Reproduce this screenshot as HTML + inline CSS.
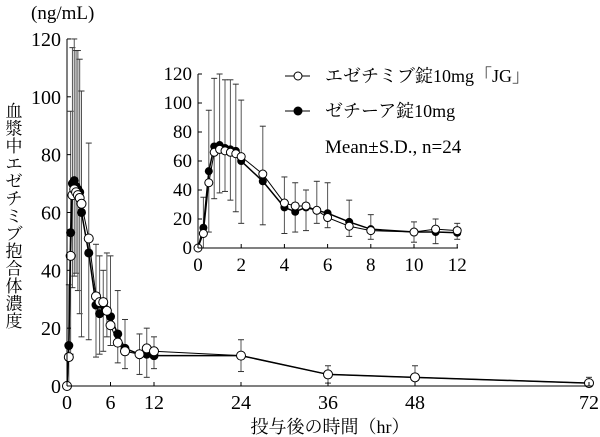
<!DOCTYPE html>
<html><head><meta charset="utf-8"><style>
html,body{margin:0;padding:0;background:#fff;}
svg{display:block;font-family:"Liberation Serif","Noto Serif CJK JP",serif;}
</style></head><body>
<svg id="s" width="600" height="437" viewBox="0 0 600 437"></svg>
<script>
const s=document.getElementById('s');let h='';
const t=[0,0.25,0.5,0.75,1,1.25,1.5,1.75,2,3,4,4.5,5,5.5,6,7,8,10,11,12,24,36,48,72];
const o=[0,10,45,66,68,67,66,65,63,51,31,29,29,26,21,15,12,11,13,12,10.5,4,3,1];
const f=[0,14,53,70,71,69,68,67,60,46,28,25,28,26,24,18,13,11,11,10.5,10.5,4,3,1];
const up=[0,35,95,117,120,116,116,113,102,84,49,45,40,46,45,33,23,18,20,17,16,7,7,3];
const lo=[0,0,11,34,38,39,33,25,17,16,10,11,12,17,14,8,6,4,3,6,5,1,0,0];
function plot(X,Y,n,r,sw){
 for(let i=0;i<n;i++){if(i==0)continue;const x=X(t[i]);
  h+=`<line x1="${x}" y1="${Y(up[i])}" x2="${x}" y2="${Y(lo[i])}" stroke="#555" stroke-width="1"/>`;
  h+=`<line x1="${x-3}" y1="${Y(up[i])}" x2="${x+3}" y2="${Y(up[i])}" stroke="#333"/>`;
  h+=`<line x1="${x-3}" y1="${Y(lo[i])}" x2="${x+3}" y2="${Y(lo[i])}" stroke="#333"/>`;}
 let pf='',po='';for(let i=0;i<n;i++){pf+=`${X(t[i])},${Y(f[i])} `;po+=`${X(t[i])},${Y(o[i])} `;}
 h+=`<polyline points="${pf}" fill="none" stroke="#000" stroke-width="${sw}"/>`;
 for(let i=0;i<n;i++)h+=`<circle cx="${X(t[i])}" cy="${Y(f[i])}" r="${r}" fill="#000"/>`;
 h+=`<polyline points="${po}" fill="none" stroke="#000" stroke-width="1"/>`;
 for(let i=0;i<n;i++)h+=`<circle cx="${X(t[i])}" cy="${Y(o[i])}" r="${r}" fill="#fff" stroke="#000" stroke-width="1"/>`;
}
// main
let X=v=>67+v*7.25,Y=v=>386-v*2.892;
plot(X,Y,24,4.5,1.5);
h+=`<line x1="67" y1="39" x2="67" y2="386" stroke="#000"/><line x1="67" y1="386" x2="592" y2="386" stroke="#000"/>`;
for(let v=0;v<=120;v+=20){h+=`<line x1="67" y1="${Y(v)}" x2="71" y2="${Y(v)}" stroke="#000"/><text x="61" y="${Y(v)+7}" font-size="20" text-anchor="end">${v}</text>`;}
for(const v of [0,6,12,24,36,48,72]){h+=`<line x1="${X(v)}" y1="386" x2="${X(v)}" y2="382" stroke="#000"/><text x="${X(v)}" y="409" font-size="20" text-anchor="middle">${v}</text>`;}
h+=`<text x="330" y="433" font-size="18" text-anchor="middle">投与後の時間（hr）</text>`;
h+=`<text x="31" y="19" font-size="19">(ng/mL)</text>`;
const yl="血漿中エゼチミブ抱合体濃度";for(let i=0;i<yl.length;i++)h+=`<text x="14" y="${117+i*17.5}" font-size="17" text-anchor="middle">${yl[i]}</text>`;
// inset
X=v=>198+v*21.6;Y=v=>248-v*1.45;
plot(X,Y,20,4,1.5);
h+=`<line x1="198" y1="74" x2="198" y2="248" stroke="#000"/><line x1="198" y1="248" x2="458" y2="248" stroke="#000"/>`;
for(let v=0;v<=120;v+=20){h+=`<line x1="198" y1="${Y(v)}" x2="202" y2="${Y(v)}" stroke="#000"/><text x="192" y="${Y(v)+6}" font-size="19" text-anchor="end">${v}</text>`;}
for(let v=0;v<=12;v+=2){h+=`<line x1="${X(v)}" y1="248" x2="${X(v)}" y2="244" stroke="#000"/><text x="${X(v)}" y="271" font-size="19" text-anchor="middle">${v}</text>`;}
// legend
h+=`<line x1="285" y1="76" x2="310" y2="76" stroke="#000"/><circle cx="298" cy="76" r="4" fill="#fff" stroke="#000"/><text x="325" y="82" font-size="18">エゼチミブ錠10mg「JG」</text>`;
h+=`<line x1="285" y1="111" x2="310" y2="111" stroke="#000"/><circle cx="298" cy="111" r="4.5" fill="#000"/><text x="325" y="117" font-size="18">ゼチーア錠10mg</text>`;
h+=`<text x="325" y="153" font-size="19">Mean±S.D., n=24</text>`;
s.innerHTML=h;
</script>
</body></html>
